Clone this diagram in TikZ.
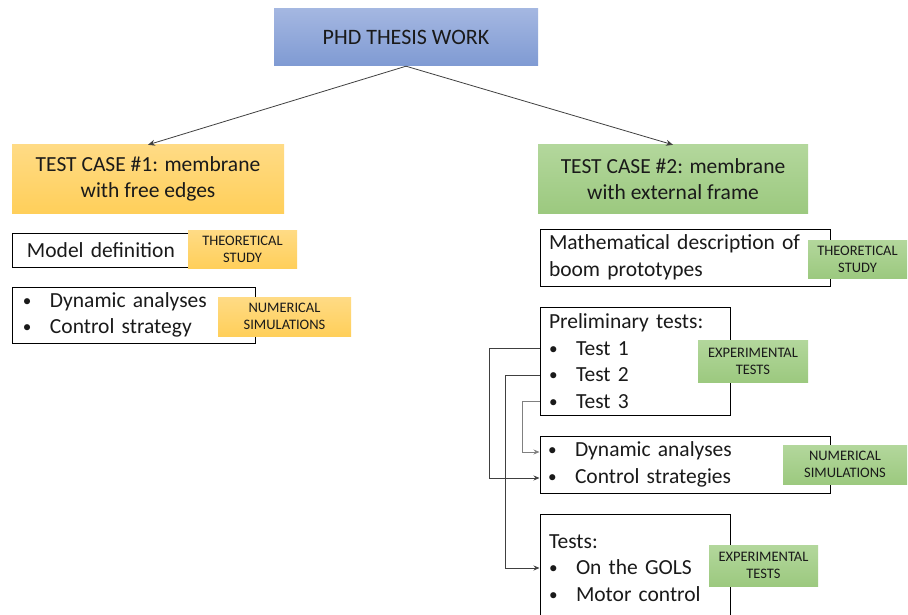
\documentclass[tikz,border=0pt]{standalone}
\usepackage{fontspec}
\setmainfont{Carlito}
\usetikzlibrary{arrows.meta}
\definecolor{bluetop}{HTML}{A4B7E1}
\definecolor{bluebot}{HTML}{7F9AD3}
\definecolor{ortop}{HTML}{FFDB85}
\definecolor{orbot}{HTML}{FFCF5A}
\definecolor{grtop}{HTML}{B3D79C}
\definecolor{grbot}{HTML}{9CC97F}
\definecolor{txt}{HTML}{1A1A1A}
\definecolor{conn}{HTML}{404040}
\newcommand{\bul}{\makebox[27pt][l]{\raisebox{1pt}{\scalebox{0.8}{•}}}}
\tikzset{
  mainfont/.style={font=\fontsize{21.5}{26.5}\selectfont, text=txt},
  tagfont/.style={font=\fontsize{14.5}{17}\selectfont, text=txt},
  phdbox/.style={font=\fontsize{22}{26}\selectfont, text=txt, top color=bluetop, bottom color=bluebot, minimum width=264pt, minimum height=57pt, inner sep=0pt},
  orcase/.style={mainfont, top color=ortop, bottom color=orbot, minimum height=68pt, inner sep=0pt, align=center},
  grcase/.style={mainfont, top color=grtop, bottom color=grbot, minimum height=68pt, inner sep=0pt, align=center},
  wbox/.style={mainfont, draw=black, line width=1pt, fill=white, align=left, inner ysep=0pt},
  ortag/.style={tagfont, top color=ortop, bottom color=orbot, align=center, inner sep=0pt},
  grtag/.style={tagfont, top color=grtop, bottom color=grbot, align=center, inner sep=0pt},
  arr/.style={draw=conn, line width=0.8pt, -{Stealth[length=7pt,width=6pt]}},
  lnk/.style={draw=conn, line width=0.8pt, -{Stealth[length=6pt,width=5pt]}},
}
\begin{document}
\begin{tikzpicture}[x=1pt,y=-1pt]
\useasboundingbox (0,0) rectangle (908,615);
\clip (0,0) rectangle (908,615);
\fill[white] (0,0) rectangle (908,615);

\node[phdbox] (phd) at (406,37.5) {PHD THESIS WORK};
\node[orcase, minimum width=272pt] (tc1) at (148,179) {TEST CASE \#1: membrane\\with free edges};
\node[grcase, minimum width=270pt] (tc2) at (673,179) {TEST CASE \#2: membrane\\with external frame};

\draw[arr] (phd.south) -- (tc1.north);
\draw[arr] (phd.south) -- (tc2.north);

% left column
\node[wbox, minimum width=184pt, minimum height=34pt, inner xsep=15pt, text width=154pt] (model) at (104,250) {Model definition};
\node[wbox, minimum width=243pt, minimum height=56pt, inner xsep=11pt, text width=221pt] (dyn1) at (133.5,315) {\bul Dynamic analyses\\\bul Control strategy};
\node[ortag, minimum width=109pt, minimum height=38pt] (tag1) at (242.5,249) {THEORETICAL\\STUDY};
\node[ortag, minimum width=133pt, minimum height=39pt] (tag2) at (284.5,316.5) {NUMERICAL\\SIMULATIONS};

% right column
\node[wbox, minimum width=290pt, minimum height=57pt, inner xsep=9pt, text width=272pt] (math) at (685,257.5) {Mathematical description of\\boom prototypes};
\node[wbox, minimum width=190pt, minimum height=108pt, inner xsep=9pt, text width=172pt] (pre) at (635,361) {Preliminary tests:\\\bul Test 1\\\bul Test 2\\\bul Test 3};
\node[wbox, minimum width=290pt, minimum height=57pt, inner xsep=8pt, text width=274pt] (dyn2) at (685,464.5) {\bul Dynamic analyses\\\bul Control strategies};
\node[wbox, minimum width=190pt, minimum height=108pt, inner xsep=9pt, text width=172pt] (tests) at (635,568) {Tests:\\\bul On the GOLS\\\bul Motor control};

\node[grtag, minimum width=99pt, minimum height=38pt] (tag3) at (857.5,259) {THEORETICAL\\STUDY};
\node[grtag, minimum width=110pt, minimum height=42pt] (tag4) at (753,361) {EXPERIMENTAL\\TESTS};
\node[grtag, minimum width=124pt, minimum height=39pt] (tag5) at (845,464.5) {NUMERICAL\\SIMULATIONS};
\node[grtag, minimum width=109pt, minimum height=41pt] (tag6) at (763.5,565.5) {EXPERIMENTAL\\TESTS};

% connector anchors
\coordinate (t1) at (pre.west |- 0,348);
\coordinate (t2) at (pre.west |- 0,375);
\coordinate (t3) at (pre.west |- 0,401);
\coordinate (d1) at (dyn2.west |- 0,452);
\coordinate (d2) at (dyn2.west |- 0,478);
\coordinate (g1) at (tests.west |- 0,568);

\draw[lnk] (t1) -- (489,348) |- (d2);
\draw[lnk] (t2) -- (505,375) |- (g1);
\draw[lnk, draw=gray] (t3) -- (522,401) |- (d1);
\end{tikzpicture}
\end{document}
